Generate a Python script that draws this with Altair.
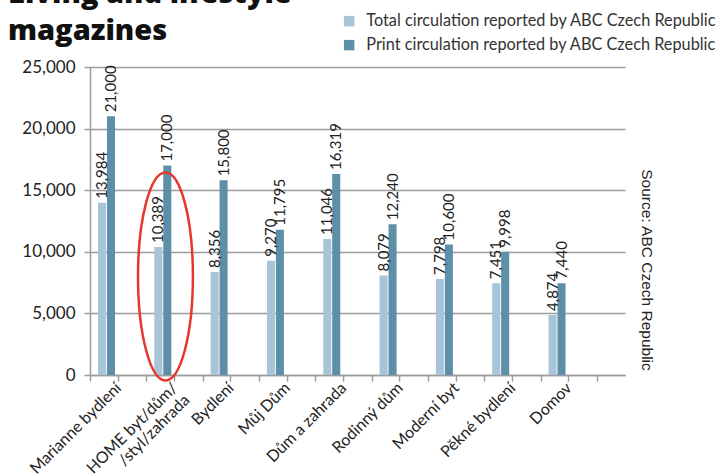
import altair as alt
import pandas as pd

# Circulation of Czech living & lifestyle titles (ABC Czech Republic)
magazines = [
    "Marianne bydlení",
    "HOME byt/dům//styl/zahrada",
    "Bydlení",
    "Můj Dům",
    "Dům a zahrada",
    "Rodinný dům",
    "Moderní byt",
    "Pěkné bydlení",
    "Domov",
]
total_circulation = [13984, 10389, 8356, 9270, 11046, 8079, 7798, 7451, 4874]
print_circulation = [21000, 17000, 15800, 11795, 16319, 12240, 10600, 9998, 7440]
series_names = [
    "Total circulation reported by ABC Czech Republic",
    "Print circulation reported by ABC Czech Republic",
]
series_colors = ["#a7c5d6", "#5d8fa8"]
y_ticks = [0, 5000, 10000, 15000, 20000, 25000]

title_lines = "Living and lifestyle\nmagazines"
source_note = "Source: ABC Czech Republic"
highlighted = magazines[1]
highlight_mid = 8000

rows = []
for name, tot, prt in zip(magazines, total_circulation, print_circulation):
    rows.append({"magazine": name, "series": series_names[0], "value": tot})
    rows.append({"magazine": name, "series": series_names[1], "value": prt})
df = pd.DataFrame(rows)

FONT = "Lato"
GRID = "#9c9c9c"
W, H = 535, 308

x_scale = alt.Scale(domain=magazines, paddingInner=0, paddingOuter=0.25, align=0)
offset = alt.XOffset(
    "series:N",
    sort=series_names,
    scale=alt.Scale(domain=series_names, range=[8, 25], paddingInner=0.1),
)
y_enc = alt.Y(
    "value:Q",
    scale=alt.Scale(domain=[0, 25000], nice=False),
    axis=alt.Axis(
        values=y_ticks, labelExpr="format(datum.value, ',')", title=None,
        grid=True, gridColor=GRID, gridWidth=1.5, domainColor=GRID,
        domainWidth=1.5, tickColor=GRID, tickWidth=1.5, tickSize=6,
        labelFont=FONT, labelFontSize=17, labelColor="#222222", labelPadding=9,
    ),
)

label_expr = (
    "datum.value == 'HOME byt/dům//styl/zahrada' ? "
    "['HOME byt/dům/', '/styl/zahrada'] : datum.label"
)

bars = alt.Chart(df).mark_bar().encode(
    x=alt.X(
        "magazine:N", sort=magazines, scale=x_scale,
        axis=alt.Axis(
            orient="bottom", title=None, labelAngle=315, labelAlign="right",
            labelBaseline="middle", labelFont=FONT, labelFontSize=16,
            labelColor="#222222", labelPadding=4, labelExpr=label_expr,
            labelLineHeight=17, tickBand="extent", tickColor=GRID,
            tickWidth=1.5, tickSize=6, domainColor=GRID, domainWidth=1.5,
            grid=False, labelOverlap=False,
        ),
    ),
    xOffset=offset,
    y=y_enc,
    color=alt.Color(
        "series:N", sort=series_names,
        scale=alt.Scale(domain=series_names, range=series_colors),
        legend=alt.Legend(
            orient="none", legendX=251, legendY=-54, title=None,
            symbolType="square", symbolSize=110, symbolStrokeWidth=0,
            labelFont=FONT, labelFontSize=16.3, labelColor="#333333",
            labelOffset=9, rowPadding=7, padding=0, labelLimit=400,
        ),
    ),
)

value_labels = alt.Chart(df).mark_text(
    angle=270, align="left", baseline="middle", dx=4,
    font=FONT, fontSize=15, color="#222222",
).encode(
    x=alt.X(
        "magazine:N", sort=magazines, scale=x_scale,
        axis=alt.Axis(
            orient="bottom", title=None, labels=False, domain=False,
            grid=False, tickColor=GRID, tickWidth=1.5, tickSize=6,
        ),
    ),
    xOffset=offset,
    y=y_enc,
    text=alt.Text("value:Q", format=","),
)

ELLIPSE = "M -0.264 0 A 0.264 1 0 1 1 0.264 0 A 0.264 1 0 1 1 -0.264 0 Z"
ring = alt.Chart(pd.DataFrame({"magazine": [highlighted], "value": [highlight_mid]})).mark_point(
    shape=ELLIPSE, size=43264, filled=False, stroke="#e5372c",
    strokeWidth=2.5, opacity=1,
).encode(
    x=alt.X("magazine:N", sort=magazines, scale=x_scale, bandPosition=0.34, axis=None),
    y=y_enc,
)

title = alt.Chart(pd.DataFrame({"t": [title_lines]})).mark_text(
    align="left", baseline="alphabetic", lineBreak="\n", lineHeight=37,
    font="Open Sans", fontWeight=800, fontSize=29, color="#111111",
).encode(x=alt.value(-82), y=alt.value(-64), text="t:N")

source = alt.Chart(pd.DataFrame({"t": [source_note]})).mark_text(
    angle=90, align="center", baseline="middle",
    font="Liberation Sans", fontSize=15.5, color="#222222",
).encode(x=alt.value(557), y=alt.value(203), text="t:N")

chart = (
    alt.layer(bars, value_labels, ring, title, source)
    .resolve_axis(x="independent")
    .properties(
        width=W, height=H,
        autosize=alt.AutoSizeParams(type="none"),
        padding={"left": 90, "top": 67, "right": 95, "bottom": 101},
        background="white",
    )
    .configure_view(stroke=None)
)

chart.save("out.html", embed_options={"renderer": "svg", "actions": False})
